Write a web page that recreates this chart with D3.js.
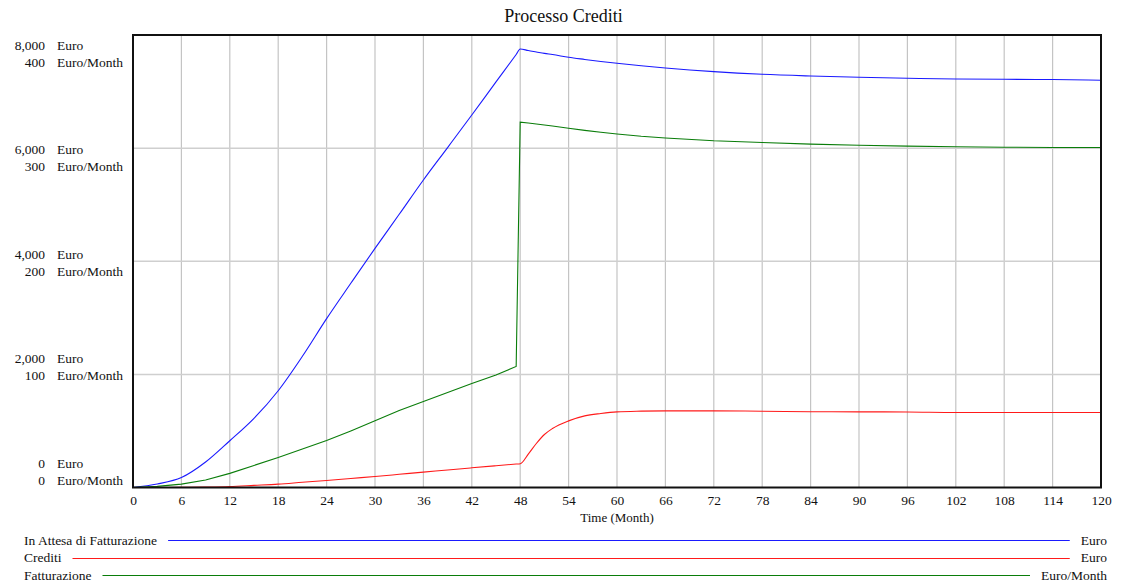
<!DOCTYPE html>
<html>
<head>
<meta charset="utf-8">
<script src="https://cdn.jsdelivr.net/npm/d3@7"></script>
<style>
  body { margin: 0; background: #fff; }
  svg text { font-family: "Liberation Serif", "Times New Roman", serif; fill: #111; }
</style>
</head>
<body>
<div id="chart"></div>
<script>
// time axis (months)
var months = [0, 3, 6, 9, 12, 15, 18, 21, 24, 27, 30, 33, 36, 39, 42, 45, 47.5, 48, 49, 50, 51, 52, 54, 56, 58, 60, 63, 66, 72, 78, 84, 90, 96, 102, 108, 114, 120];

// In Attesa di Fatturazione (Euro)
var inAttesa = [0, 62, 175, 450, 827, 1223, 1711, 2320, 2985, 3610, 4228, 4830, 5437, 6010, 6586, 7170, 7655, 7753, 7725, 7700, 7675, 7655, 7606, 7568, 7532, 7500, 7456, 7417, 7352, 7305, 7275, 7252, 7235, 7222, 7217, 7212, 7200];

// Crediti (Euro)
var crediti = [0, 0, 2, 8, 18, 38, 59, 92, 124, 160, 195, 233, 271, 310, 348, 385, 415, 421, 590, 778, 937, 1043, 1178, 1266, 1308, 1337, 1350, 1355, 1355, 1349, 1340, 1337, 1335, 1326, 1326, 1326, 1326];

// Fatturazione (Euro/Month)
var fatturazione = [0, 1, 3, 6.6, 12.5, 19.5, 26.5, 34, 41.5, 50, 59, 68, 76, 84, 92, 99.5, 107, 323, 322.2, 321.3, 320.4, 319.5, 317.5, 315.7, 314, 312.5, 310.5, 309, 306.5, 305, 303.5, 302.5, 301.8, 301.2, 300.8, 300.6, 300.5];

var xTicks = d3.range(0, 121, 6);
var euroTicks = [0, 2000, 4000, 6000, 8000];
var rateTicks = [0, 100, 200, 300, 400];

var width = 1127, height = 583;
var plotL = 133, plotR = 1101, plotT = 35, plotB = 487.5;

var svg = d3.select("#chart").append("svg")
    .attr("width", width)
    .attr("height", height);

var x = d3.scaleLinear().domain([0, 120]).range([plotL, plotR]);
var yEuro = d3.scaleLinear().domain([0, 8000]).range([plotB, plotT]);
var yRate = d3.scaleLinear().domain([0, 400]).range([plotB, plotT]);
// the labels are spread evenly down the side, not on the gridlines
var yLabel = d3.scaleLinear().domain([0, 8000]).range([463, 45]);

// title
svg.append("text")
    .attr("x", width / 2)
    .attr("y", 22)
    .attr("text-anchor", "middle")
    .style("font-size", "18px")
    .text("Processo Crediti");

// grid
svg.append("g").selectAll("line")
    .data(xTicks.slice(1, -1))
    .enter().append("line")
    .attr("x1", function(d) { return x(d); })
    .attr("x2", function(d) { return x(d); })
    .attr("y1", plotT)
    .attr("y2", plotB)
    .attr("stroke", "#c4c4c4")
    .attr("stroke-width", 1.2);

svg.append("g").selectAll("line")
    .data(euroTicks.slice(1, -1))
    .enter().append("line")
    .attr("x1", plotL)
    .attr("x2", plotR)
    .attr("y1", function(d) { return yEuro(d); })
    .attr("y2", function(d) { return yEuro(d); })
    .attr("stroke", "#cfcfcf")
    .attr("stroke-width", 1.5);

// y labels
var ylab = svg.append("g").style("font-size", "13.5px");
euroTicks.forEach(function(v, i) {
    var yy = yLabel(v);
    ylab.append("text").attr("x", 45).attr("y", yy).attr("dy", "0.35em")
        .attr("text-anchor", "end").text(d3.format(",")(v));
    ylab.append("text").attr("x", 57).attr("y", yy).attr("dy", "0.35em").text("Euro");
    ylab.append("text").attr("x", 45).attr("y", yy + 17).attr("dy", "0.35em")
        .attr("text-anchor", "end").text(d3.format(",")(rateTicks[i]));
    ylab.append("text").attr("x", 57).attr("y", yy + 17).attr("dy", "0.35em").text("Euro/Month");
});

// x axis
var xAxis = svg.append("g")
    .attr("transform", "translate(0," + plotB + ")")
    .call(d3.axisBottom(x).tickValues(xTicks).tickSize(0).tickPadding(8));
xAxis.select(".domain").remove();
xAxis.selectAll("text")
    .style("font-size", "13.5px")
    .style("font-family", "Liberation Serif, serif")
    .attr("fill", "#111");

svg.append("text")
    .attr("x", (plotL + plotR) / 2)
    .attr("y", 522)
    .attr("text-anchor", "middle")
    .style("font-size", "13px")
    .text("Time (Month)");

// lines (green is near-straight with a step, so keep it linear)
var series = [
    { name: "In Attesa di Fatturazione", unit: "Euro", values: inAttesa, y: yEuro, color: "#1a1aff", curve: d3.curveMonotoneX },
    { name: "Crediti", unit: "Euro", values: crediti, y: yEuro, color: "#ff1a1a", curve: d3.curveMonotoneX },
    { name: "Fatturazione", unit: "Euro/Month", values: fatturazione, y: yRate, color: "#0a7d0a", curve: d3.curveLinear }
];

series.forEach(function(s) {
    var line = d3.line()
        .curve(s.curve)
        .x(function(d, i) { return x(months[i]); })
        .y(function(d) { return s.y(d); });
    svg.append("path")
        .datum(s.values)
        .attr("d", line)
        .attr("fill", "none")
        .attr("stroke", s.color)
        .attr("stroke-width", 1.1);
});

// frame
svg.append("rect")
    .attr("x", plotL)
    .attr("y", plotT)
    .attr("width", plotR - plotL)
    .attr("height", plotB - plotT)
    .attr("fill", "none")
    .attr("stroke", "#111")
    .attr("stroke-width", 2);

// legend
var legend = svg.append("g").style("font-size", "13.5px");
series.forEach(function(s, i) {
    var yy = 540 + i * 17.5;
    var name = legend.append("text").attr("x", 24).attr("y", yy).attr("dy", "0.35em").text(s.name);
    var unit = legend.append("text").attr("x", 1107).attr("y", yy).attr("dy", "0.35em")
        .attr("text-anchor", "end").text(s.unit);
    var x1 = 24 + name.node().getComputedTextLength() + 11;
    var x2 = 1107 - unit.node().getComputedTextLength() - 11;
    var ly = Math.round(yy) + 0.5;
    legend.append("line")
        .attr("x1", x1).attr("x2", x2)
        .attr("y1", ly).attr("y2", ly)
        .attr("stroke", s.color)
        .attr("stroke-width", 1.2);
});
</script>
</body>
</html>
